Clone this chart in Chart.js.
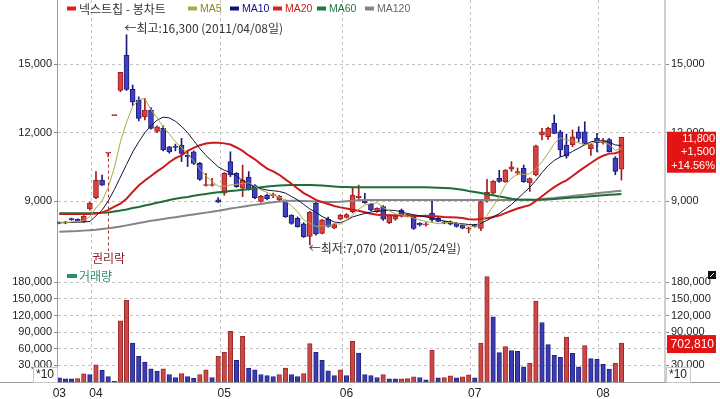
<!DOCTYPE html>
<html><head><meta charset="utf-8">
<script src="https://cdn.jsdelivr.net/npm/chart.js@4.4.0/dist/chart.umd.min.js"></script>
<style>
html,body{margin:0;padding:0;background:#fff;width:720px;height:399px;overflow:hidden}
#c1{position:absolute;left:0;top:0}
#c2{position:absolute;left:0;top:266px}
</style></head><body>
<canvas id="c1" width="720" height="266"></canvas>
<canvas id="c2" width="720" height="133"></canvas>
<script>
// ---------- data ----------
const stockName = '넥스트칩 - 봉차트';
const volumeName = '거래량';
const exRightsDate = '2011/04/05';
const volumeUnit = 10;

const dates = [
'2011/03/24','2011/03/25','2011/03/28','2011/03/29','2011/03/30','2011/03/31',
'2011/04/01','2011/04/04','2011/04/05','2011/04/06','2011/04/07','2011/04/08','2011/04/11','2011/04/12','2011/04/13','2011/04/14','2011/04/15','2011/04/18','2011/04/19','2011/04/20','2011/04/21','2011/04/22','2011/04/25','2011/04/26','2011/04/27','2011/04/28','2011/04/29',
'2011/05/02','2011/05/03','2011/05/04','2011/05/06','2011/05/09','2011/05/11','2011/05/12','2011/05/13','2011/05/16','2011/05/17','2011/05/18','2011/05/19','2011/05/20','2011/05/23','2011/05/24','2011/05/25','2011/05/26','2011/05/27','2011/05/30','2011/05/31',
'2011/06/01','2011/06/02','2011/06/03','2011/06/07','2011/06/08','2011/06/09','2011/06/10','2011/06/13','2011/06/14','2011/06/15','2011/06/16','2011/06/17','2011/06/20','2011/06/21','2011/06/22','2011/06/23','2011/06/24','2011/06/27','2011/06/28','2011/06/29','2011/06/30',
'2011/07/01','2011/07/04','2011/07/05','2011/07/06','2011/07/07','2011/07/08','2011/07/11','2011/07/12','2011/07/13','2011/07/14','2011/07/15','2011/07/18','2011/07/19','2011/07/20','2011/07/21','2011/07/22','2011/07/25','2011/07/26','2011/07/27','2011/07/28','2011/07/29',
'2011/08/01','2011/08/02','2011/08/03','2011/08/04'];

const open = [8050,8060,8220,8200,8090,8650,9150,9920,11100,12750,13850,15400,13900,13430,12700,12990,12050,12190,11380,11400,11460,11000,11160,10650,9680,9680,9050,9340,10730,10220,9560,10050,9680,8980,9260,9230,9050,9000,8380,8240,8000,7450,8900,7580,8200,7820,8200,8280,8530,9150,9050,8850,8530,8750,8050,8200,8600,8350,8310,8020,7950,8460,8240,8090,8090,8020,7950,7780,7950,7800,8990,9340,10000,9850,10400,10220,10430,9790,10140,11900,11820,12410,12040,11460,11460,12040,12040,11300,11750,11550,11700,10880,10400];
const high = [8080,8100,8250,8220,8360,8950,10290,10140,11100,12750,14650,16300,14090,13570,13510,13100,12300,12300,11400,11500,11750,11160,11200,10700,10220,10000,9150,10250,11160,10250,10580,10290,9720,9250,9300,9350,9250,9050,8400,8300,8050,8550,8950,8200,8300,8000,8420,8450,9560,9700,9340,8900,8700,8800,8400,8350,8650,8450,8350,8050,8050,9000,8280,8120,8120,8050,7980,7850,7980,9000,9950,9900,10350,10380,10730,10450,10580,10020,11450,12190,12250,12780,12100,11940,12120,12260,12480,11520,11970,11750,11750,10950,11800];
const low = [8000,8000,8150,8100,8060,8600,9100,9680,10950,12750,13800,13850,13200,12520,12560,12150,12000,11200,11100,11200,10730,10510,10600,9900,9650,9650,8930,9250,10070,9600,9190,9480,9100,8950,9050,9150,9000,8280,7980,7850,7400,7070,7500,7550,7850,7780,8170,8250,8480,9050,8900,8580,8500,8150,8000,8150,8300,8300,7750,7900,7900,8100,8080,8000,7950,7850,7780,7600,7850,7700,8950,9300,9820,9820,10300,10150,9820,9420,10100,11680,11700,11950,10950,10880,11380,11600,11500,11000,11160,11500,11150,10150,9920];
const close = [8030,8040,8180,8120,8340,8900,9920,9700,11100,12750,14650,13900,13360,12630,12990,12190,12260,11240,11160,11350,11090,10950,10650,9950,9720,9720,8950,10220,10140,9630,9920,9520,9150,9200,9100,9280,9200,8310,8020,7870,7430,8500,7560,8170,7880,7960,8380,8400,9260,9200,8930,8600,8680,8200,8380,8330,8350,8400,7800,7950,8000,8170,8100,8030,7980,7880,7810,7800,7880,8970,9380,9880,9860,10360,10500,10290,9850,9990,11420,12040,12190,11970,11240,10970,11820,11750,11530,11480,11550,11650,11170,10300,11800];
const volume = [7600,5800,5500,6000,14900,13600,31200,20900,10000,1000,110300,147900,70400,46300,36000,23900,19100,23900,13600,8200,15400,10000,6400,13600,22100,8200,46300,53500,91600,39000,82600,25100,22100,13600,11800,10000,13600,25100,13600,10000,15400,69300,53500,39000,20300,11800,22100,11800,73500,52300,13600,11800,8200,13600,5800,5500,5700,6000,9400,8200,4000,57200,7600,7900,11200,7600,9400,13000,7600,70400,190200,117600,53000,63900,56600,55400,27600,34100,146100,107400,67500,48100,44500,81300,51700,27600,65700,42100,40800,31800,23200,34100,70281];

const ma5 = [8050,8050,8080,8100,8140,8320,8700,9000,9600,10450,11600,12450,13150,13450,13500,13000,12650,12250,11950,11600,11350,11050,10750,10400,10100,9850,9650,9650,9700,9730,9770,9800,9650,9480,9380,9250,9190,9020,8780,8530,8170,8030,7880,7910,7910,8010,7990,8160,8380,8640,8830,8880,8930,8720,8560,8440,8390,8330,8250,8170,8100,8060,8000,8050,8060,8030,7960,7900,7870,8070,8370,8780,9190,9690,10000,10180,10170,10200,10410,10720,11100,11520,11770,11680,11640,11550,11460,11510,11630,11590,11480,11230,11290];
const ma10 = [8050,8050,8060,8070,8080,8100,8350,8600,9000,9500,10050,10600,11150,11600,12000,12300,12550,12680,12650,12500,12280,12000,11650,11300,11000,10750,10500,10350,10250,10100,9900,9750,9620,9540,9480,9450,9420,9350,9200,9050,8850,8650,8500,8320,8200,8080,8050,8150,8300,8380,8450,8520,8550,8580,8600,8580,8520,8450,8400,8350,8300,8250,8180,8120,8080,8030,8000,7970,7950,8020,8150,8300,8450,8650,8850,9100,9350,9600,9900,10250,10550,10780,10930,11030,11180,11320,11470,11600,11640,11640,11580,11460,11440];
const ma20 = [8430,8430,8430,8430,8430,8430,8450,8500,8600,8750,8880,9100,9400,9680,9900,10100,10300,10480,10700,10880,11000,11200,11330,11450,11520,11560,11560,11530,11480,11350,11200,11000,10830,10620,10420,10300,10150,9950,9760,9550,9350,9200,9050,8950,8870,8780,8720,8670,8620,8570,8510,8440,8400,8380,8380,8370,8360,8350,8340,8340,8350,8340,8320,8300,8290,8280,8250,8200,8190,8210,8240,8300,8360,8470,8570,8670,8750,8820,9000,9210,9420,9610,9770,9910,10100,10300,10490,10670,10850,10990,11080,11100,11190];
const ma60 = [8460,8460,8460,8460,8460,8460,8470,8480,8500,8540,8580,8630,8690,8740,8800,8860,8920,8980,9040,9100,9140,9180,9230,9270,9310,9350,9380,9410,9440,9460,9490,9520,9560,9600,9640,9660,9680,9690,9700,9700,9700,9700,9690,9680,9660,9640,9620,9610,9600,9600,9600,9600,9600,9600,9600,9600,9600,9600,9600,9600,9600,9590,9580,9570,9560,9530,9490,9440,9400,9350,9300,9250,9200,9150,9100,9070,9060,9050,9040,9050,9070,9090,9110,9130,9150,9170,9190,9210,9230,9250,9270,9290,9310];
const ma120 = [7650,7660,7670,7680,7700,7720,7740,7770,7800,7840,7880,7930,7980,8030,8080,8130,8170,8210,8250,8290,8330,8370,8410,8450,8490,8530,8570,8620,8670,8710,8750,8790,8830,8870,8910,8950,8980,9000,9010,9010,9000,8990,8980,8970,8960,8960,8970,8990,9010,9030,9040,9040,9040,9040,9040,9040,9040,9040,9040,9040,9040,9040,9040,9040,9040,9040,9040,9040,9040,9040,9040,9040,9040,9040,9040,9050,9050,9060,9070,9090,9110,9130,9160,9190,9220,9250,9280,9310,9340,9370,9400,9430,9450];

const priceTicks = [9000, 12000, 15000];
const volumeTicks = [30000, 60000, 90000, 120000, 150000, 180000];

// ---------- presentation ----------
Chart.defaults.font.family = '"Liberation Sans", Arial, sans-serif';
Chart.defaults.animation = false;
const fmt = v => Math.round(v).toLocaleString('en-US');
const idx = dates.map((d, i) => i + 1);
const isUp = i => close[i] >= open[i];
const RED = '#d94040', RED_D = '#9e1e1e', BLUE = '#4040c0', BLUE_D = '#1c1c78';
const GRID = '#c2c2c2';
const X_MIN = 0.62, X_MAX = 100.13;
const monthBounds = [], monthStarts = [1];
for (let i = 1; i < dates.length; i++) {
  if (dates[i].slice(5, 7) !== dates[i - 1].slice(5, 7)) { monthBounds.push(i + 0.3); monthStarts.push(i + 1); }
}
const zeroPad = s => { s.paddingTop = 0; s.paddingBottom = 0; s.paddingLeft = 0; s.paddingRight = 0; };

const maDefs = [
  ['MA5', ma5, '#a9a943', 1, '#8a8a1e', '#a9a943'],
  ['MA10', ma10, '#14143c', 1, '#10107a', '#10107a'],
  ['MA20', ma20, '#cc1a1a', 2, '#cc1a1a', '#d42020'],
  ['MA60', ma60, '#1d6e36', 2, '#1d7a3c', '#1d7a3c'],
  ['MA120', ma120, '#858585', 2, '#666666', '#858585']
];
const legendX = [67, 188, 230, 273, 317, 365];

const priceOverlay = {
  id: 'priceOverlay',
  afterDraw(chart) {
    const {ctx, chartArea: ca, scales: {x, y}} = chart;
    ctx.save();
    // ex-rights marker
    const er = dates.indexOf(exRightsDate);
    const erx = Math.round(x.getPixelForValue(er + 1)) + 0.5;
    ctx.strokeStyle = '#a83232'; ctx.lineWidth = 1; ctx.setLineDash([3, 3]);
    ctx.beginPath(); ctx.moveTo(erx, y.getPixelForValue(low[er]) + 2); ctx.lineTo(erx, ca.bottom - 15); ctx.stroke();
    ctx.setLineDash([]);
    ctx.font = '12px "Noto Sans CJK KR"'; ctx.textBaseline = 'middle';
    ctx.fillStyle = '#8b2020'; ctx.textAlign = 'center';
    ctx.fillText('권리락', erx, ca.bottom - 8);
    // high / low notes
    let hi = 0, lo = 0;
    high.forEach((v, i) => { if (v > high[hi]) hi = i; });
    low.forEach((v, i) => { if (v < low[lo]) lo = i; });
    ctx.fillStyle = '#333'; ctx.textAlign = 'left';
    ctx.fillText('←최고:' + fmt(high[hi]) + ' (' + dates[hi] + '일)', x.getPixelForValue(hi + 1) - 2, y.getPixelForValue(high[hi]) - 6);
    ctx.fillText('←최저:' + fmt(low[lo]) + ' (' + dates[lo] + '일)', x.getPixelForValue(lo + 1) - 1, y.getPixelForValue(low[lo]) + 3);
    // legend
    const items = [[stockName, '#e02020', '#333', '12px "Noto Sans CJK KR"']].concat(
      maDefs.map(m => [m[0], m[5], m[4], '10.5px "Liberation Sans"']));
    items.forEach((it, k) => {
      const lx = legendX[k];
      ctx.fillStyle = it[1]; ctx.fillRect(lx, 6.5, 9, 4);
      ctx.font = it[3]; ctx.fillStyle = it[2]; ctx.textAlign = 'left';
      ctx.fillText(it[0], lx + 12, 9);
    });
    // last price box
    const n = close.length - 1, diff = close[n] - close[n - 1], pct = diff / close[n - 1] * 100;
    const py = y.getPixelForValue(close[n]);
    ctx.fillStyle = '#e31414'; ctx.fillRect(ca.right + 2, py - 5.5, 49, 41);
    ctx.fillStyle = '#fff'; ctx.font = '11px "Liberation Sans"'; ctx.textAlign = 'right';
    const sg = diff >= 0 ? '+' : '-';
    ctx.fillText(fmt(close[n]), ca.right + 50, py + 1.5);
    ctx.fillText(sg + fmt(Math.abs(diff)), ca.right + 50, py + 15);
    ctx.fillText(sg + Math.abs(pct).toFixed(2) + '%', ca.right + 50, py + 28.5);
    ctx.restore();
  }
};

const volOverlay = {
  id: 'volOverlay',
  afterDraw(chart) {
    const {ctx, chartArea: ca, scales: {y}} = chart;
    ctx.save();
    ctx.strokeStyle = '#9a9a9a'; ctx.lineWidth = 1;
    ctx.beginPath(); ctx.moveTo(0, Math.round(ca.bottom) + 0.5); ctx.lineTo(chart.width, Math.round(ca.bottom) + 0.5); ctx.stroke();
    // legend
    ctx.fillStyle = '#2b8f6e'; ctx.fillRect(67, 8, 10, 4);
    ctx.font = '12px "Noto Sans CJK KR"'; ctx.textBaseline = 'middle'; ctx.textAlign = 'left';
    ctx.fillText(volumeName, 79, 10.5);
    // unit boxes
    ctx.font = '12px "Liberation Sans"'; ctx.textAlign = 'center';
    [[33, ca.left], [ca.right + 1, ca.right + 25]].forEach(b => {
      ctx.fillStyle = '#fff'; ctx.fillRect(b[0], ca.bottom - 15, b[1] - b[0], 15);
      ctx.strokeStyle = '#c8c8c8'; ctx.strokeRect(b[0] + 0.5, ca.bottom - 15 + 0.5, b[1] - b[0], 15);
      ctx.fillStyle = '#222'; ctx.fillText('*' + volumeUnit, (b[0] + b[1]) / 2, ca.bottom - 7);
    });
    // last volume box
    const lv = volume[volume.length - 1], vy = y.getPixelForValue(lv);
    ctx.fillStyle = '#e31414'; ctx.fillRect(ca.right + 2, vy - 8, 49, 18);
    ctx.fillStyle = '#fff'; ctx.textAlign = 'right';
    ctx.fillText(fmt(lv * volumeUnit), ca.right + 49, vy + 1.5);
    // small corner icon
    ctx.fillStyle = '#111'; ctx.fillRect(708, 5, 8, 8);
    ctx.strokeStyle = '#fff'; ctx.beginPath(); ctx.moveTo(710, 11); ctx.lineTo(714, 7); ctx.stroke();
    ctx.restore();
  }
};

const yPrice = (pos, w) => ({
  position: pos, min: 6147, max: 17824,
  afterBuildTicks: s => { s.ticks = priceTicks.map(v => ({value: v})); },
  afterFit: s => { s.width = w; zeroPad(s); },
  ticks: {font: {size: 11}, color: '#222', padding: 2, callback: v => fmt(v)},
  grid: pos === 'left' ? {color: GRID, tickLength: 3, tickColor: '#888'} : {drawOnChartArea: false, tickLength: 4, tickColor: '#888'},
  border: pos === 'left' ? {color: '#9a9a9a', dash: [3, 3]} : {color: '#cfcfcf', width: 2}
});
const xGrid = {
  type: 'linear', position: 'bottom', min: X_MIN, max: X_MAX, offset: false,
  afterBuildTicks: s => { s.ticks = monthBounds.map(v => ({value: v})); },
  afterFit: s => { s.height = 0; zeroPad(s); },
  ticks: {display: false},
  grid: {color: GRID, drawTicks: false, offset: false},
  border: {display: true, color: '#9a9a9a', dash: [3, 3]}
};

new Chart(document.getElementById('c1'), {
  type: 'bar',
  data: {datasets: [
    ...maDefs.map(m => ({type: 'line', label: m[0], data: idx.map((x, i) => ({x, y: m[1][i]})),
      borderColor: m[2], borderWidth: m[3], pointRadius: 0, tension: 0, order: 0})),
    {label: 'body', data: idx.map((x, i) => ({x, y: [open[i], close[i]]})), grouped: false, barThickness: 5, minBarLength: 1,
      backgroundColor: c => isUp(c.dataIndex) ? RED : BLUE, borderColor: c => isUp(c.dataIndex) ? RED_D : BLUE_D,
      borderWidth: 1, borderSkipped: false, order: 1},
    {label: 'wick', data: idx.map((x, i) => ({x, y: [low[i], high[i]]})), grouped: false, barThickness: 1,
      backgroundColor: c => isUp(c.dataIndex) ? RED_D : BLUE_D, order: 2}
  ]},
  options: {
    responsive: false, events: [], layout: {padding: 0},
    plugins: {legend: {display: false}, tooltip: {enabled: false}},
    scales: {x: xGrid, y: yPrice('left', 57), y2: yPrice('right', 55)}
  },
  plugins: [priceOverlay]
});

const yVol = (pos, w) => ({
  position: pos, min: 0, max: 209400,
  afterBuildTicks: s => { s.ticks = volumeTicks.map(v => ({value: v})); },
  afterFit: s => { s.width = w; zeroPad(s); },
  ticks: {font: {size: 11}, color: '#222', padding: 2, callback: v => fmt(v)},
  grid: pos === 'left' ? {color: GRID, tickLength: 3, tickColor: '#888'} : {drawOnChartArea: false, tickLength: 4, tickColor: '#888'},
  border: pos === 'left' ? {color: '#9a9a9a', dash: [3, 3]} : {color: '#cfcfcf', width: 2}
});

new Chart(document.getElementById('c2'), {
  type: 'bar',
  data: {datasets: [
    {label: volumeName, data: idx.map((x, i) => ({x, y: volume[i]})), barThickness: 4.5, grouped: false,
      backgroundColor: c => (c.dataIndex > 0 && volume[c.dataIndex] >= volume[c.dataIndex - 1]) ? '#cc4848' : '#3b3bb4',
      borderColor: c => (c.dataIndex > 0 && volume[c.dataIndex] >= volume[c.dataIndex - 1]) ? '#9a2a2a' : '#22227e',
      borderWidth: 1, borderSkipped: 'bottom'}
  ]},
  options: {
    responsive: false, events: [], layout: {padding: 0},
    plugins: {legend: {display: false}, tooltip: {enabled: false}},
    scales: {
      x: Object.assign({}, xGrid, {border: {display: false, dash: [3, 3]}}),
      x2: {type: 'linear', position: 'bottom', min: X_MIN, max: X_MAX, offset: false,
        afterBuildTicks: s => { s.ticks = monthStarts.map(v => ({value: v})); },
        afterFit: s => { s.height = 17; zeroPad(s); },
        ticks: {autoSkip: false, maxRotation: 0, padding: 4, font: {size: 12}, color: '#222',
          callback: v => dates[Math.round(v) - 1].slice(5, 7)},
        grid: {display: false, drawTicks: false, offset: false}, border: {display: false}},
      y: yVol('left', 57), y2: yVol('right', 55)
    }
  },
  plugins: [volOverlay]
});
</script>
</body></html>
